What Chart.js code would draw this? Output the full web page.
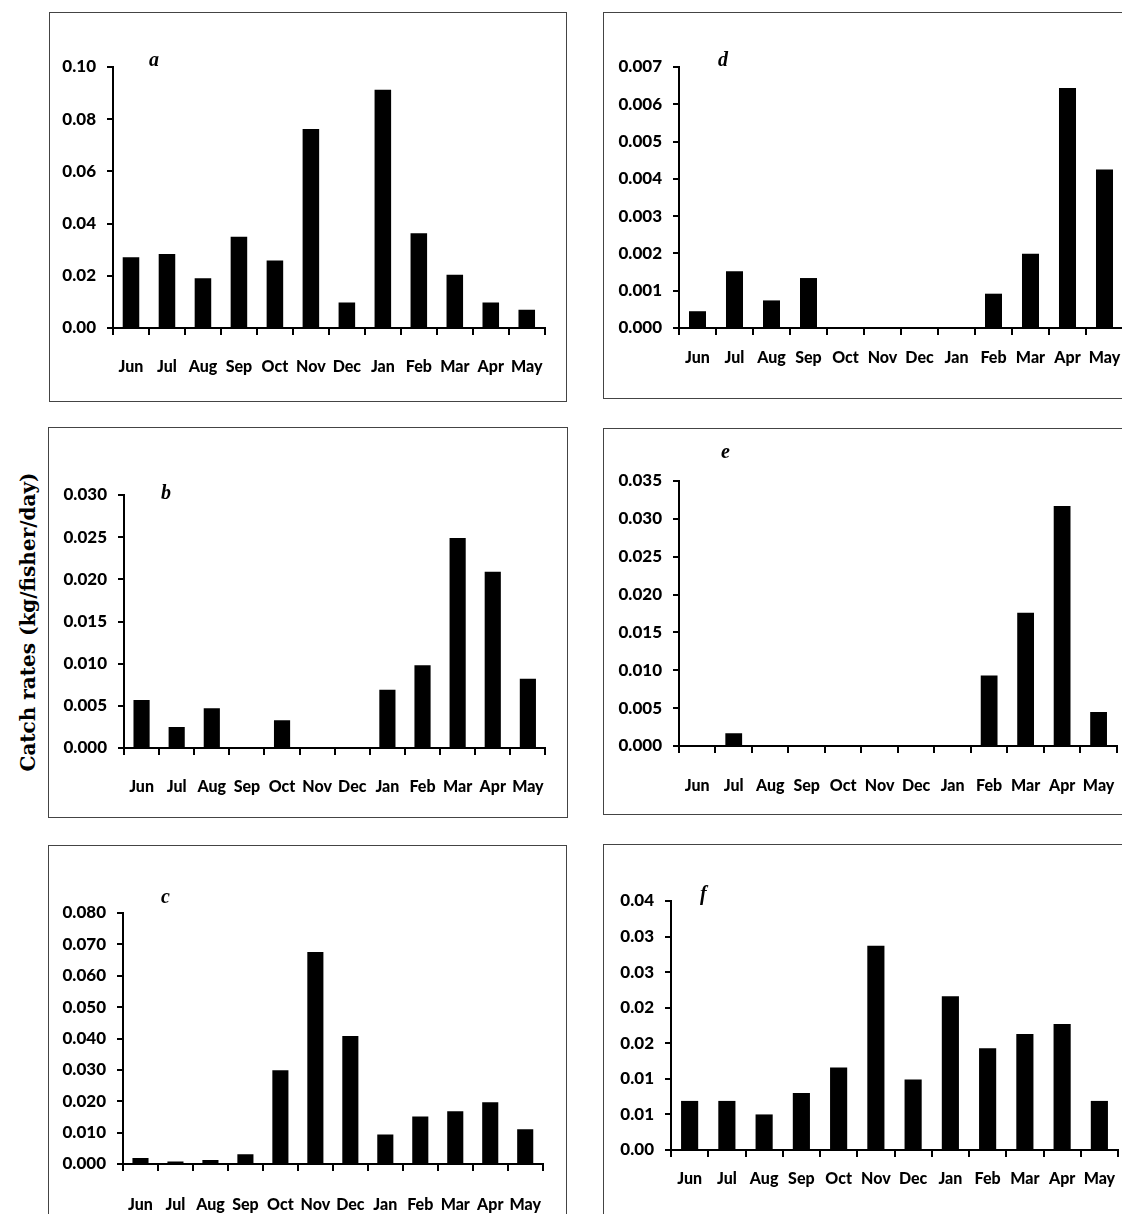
<!DOCTYPE html>
<html>
<head>
<meta charset="utf-8">
<script src="https://cdn.jsdelivr.net/npm/chart.js@4"></script>
<style>
  html, body { margin: 0; padding: 0; background: #fff; }
  body { width: 1122px; height: 1214px; position: relative; overflow: hidden; }
  .frame { position: absolute; border: 1.5px solid #444; box-sizing: border-box; }
  canvas { position: absolute; }
  .tag { position: absolute; font: italic bold 20px "Liberation Serif", serif; color: #000; }
  #ytitle {
    position: absolute; left: 28px; top: 622px;
    transform: translate(-50%, -50%) rotate(-90deg);
    white-space: nowrap;
    font: bold 20px "DejaVu Serif", serif; color: #000;
  }
</style>
</head>
<body>
<div id="ytitle">Catch rates  (kg/fisher/day)</div>
<script>
const months = ['Jun', 'Jul', 'Aug', 'Sep', 'Oct', 'Nov', 'Dec', 'Jan', 'Feb', 'Mar', 'Apr', 'May'];

// panel values
const valuesA = [0.0271, 0.0284, 0.0191, 0.0350, 0.0259, 0.0762, 0.0098, 0.0913, 0.0363, 0.0204, 0.0098, 0.0070];
const valuesB = [0.0057, 0.0025, 0.0047, 0, 0.0033, 0, 0, 0.0069, 0.0098, 0.0249, 0.0209, 0.0082];
const valuesC = [0.0019, 0.0008, 0.0013, 0.0031, 0.0299, 0.0676, 0.0408, 0.0094, 0.0151, 0.0168, 0.0197, 0.0111];
const valuesD = [0.00045, 0.00152, 0.00074, 0.00134, 0, 0, 0, 0, 0.00092, 0.00199, 0.00644, 0.00425];
const valuesE = [0, 0.0017, 0, 0, 0, 0, 0, 0, 0.0093, 0.0176, 0.0317, 0.0045];
const valuesF = [0.0069, 0.0069, 0.0050, 0.0080, 0.0116, 0.0287, 0.0099, 0.0216, 0.0143, 0.0163, 0.0177, 0.0069];

// tick labels, bottom to top
const ticksA = ['0.00', '0.02', '0.04', '0.06', '0.08', '0.10'];
const ticksB = ['0.000', '0.005', '0.010', '0.015', '0.020', '0.025', '0.030'];
const ticksC = ['0.000', '0.010', '0.020', '0.030', '0.040', '0.050', '0.060', '0.070', '0.080'];
const ticksD = ['0.000', '0.001', '0.002', '0.003', '0.004', '0.005', '0.006', '0.007'];
const ticksE = ['0.000', '0.005', '0.010', '0.015', '0.020', '0.025', '0.030', '0.035'];
const ticksF = ['0.00', '0.01', '0.01', '0.02', '0.02', '0.03', '0.03', '0.04'];

const yFont = { family: 'Lato, "Open Sans", sans-serif', size: 17, weight: '900' };
const xFont = { family: 'Lato, "Open Sans", sans-serif', size: 16, weight: '900' };

function panel(tag, values, tickLabels, yMax, yStep, g) {
  const fr = document.createElement('div');
  fr.className = 'frame';
  fr.style.left = g.fl + 'px'; fr.style.top = g.ft + 'px';
  fr.style.width = (g.fr - g.fl) + 'px'; fr.style.height = (g.fb - g.ft) + 'px';
  document.body.appendChild(fr);

  const cv = document.createElement('canvas');
  const cx = g.fl + 2, cy = g.ft + 2, cw = g.fr - g.fl - 4, ch = g.fb - g.ft - 4;
  cv.width = cw; cv.height = ch;
  cv.style.left = cx + 'px'; cv.style.top = cy + 'px';
  document.body.appendChild(cv);

  const lbl = document.createElement('div');
  lbl.className = 'tag';
  lbl.textContent = tag;
  lbl.style.left = g.tx + 'px'; lbl.style.top = g.ty + 'px';
  document.body.appendChild(lbl);

  new Chart(cv, {
    type: 'bar',
    data: {
      labels: months,
      datasets: [{ data: values, backgroundColor: '#000', barPercentage: 0.46, categoryPercentage: 1 }]
    },
    options: {
      responsive: false,
      animation: false,
      layout: { padding: { top: g.y1 - cy, right: cx + cw - g.x1, left: 0, bottom: 0 } },
      plugins: { legend: { display: false }, tooltip: { enabled: false } },
      scales: {
        x: {
          grid: { offset: true, drawOnChartArea: false, color: '#000', lineWidth: 2, tickLength: 7 },
          border: { color: '#000', width: 2 },
          ticks: { color: '#000', font: xFont, padding: g.xpad, maxRotation: 0, autoSkip: false },
          afterFit: s => { s.height = cy + ch - g.y0; }
        },
        y: {
          min: 0, max: yMax,
          grid: { drawOnChartArea: false, color: '#000', lineWidth: 2, tickLength: 6 },
          border: { color: '#000', width: 2 },
          ticks: { stepSize: yStep, color: '#000', font: yFont, padding: 11,
                   callback: (v, i) => tickLabels[i] },
          afterFit: s => { s.width = g.x0 - cx; }
        }
      }
    }
  });
}

panel('a', valuesA, ticksA, 0.10, 0.02,
  { fl: 49, ft: 12, fr: 567, fb: 402, x0: 113, x1: 553, y1: 67, y0: 328, xpad: 22, tx: 149, ty: 48 });
panel('b', valuesB, ticksB, 0.030, 0.005,
  { fl: 48, ft: 427, fr: 568, fb: 818, x0: 124, x1: 557, y1: 495, y0: 748, xpad: 22, tx: 161, ty: 481 });
panel('c', valuesC, ticksC, 0.080, 0.010,
  { fl: 48, ft: 845, fr: 567, fb: 1230, x0: 123, x1: 564, y1: 913, y0: 1164, xpad: 24, tx: 161, ty: 885 });
panel('d', valuesD, ticksD, 0.007, 0.001,
  { fl: 603, ft: 12, fr: 1140, fb: 399, x0: 679, x1: 1123, y1: 67, y0: 328, xpad: 13, tx: 718, ty: 48 });
panel('e', valuesE, ticksE, 0.035, 0.005,
  { fl: 603, ft: 428, fr: 1140, fb: 815, x0: 679, x1: 1122, y1: 481, y0: 746, xpad: 23, tx: 721, ty: 440 });
panel('f', valuesF, ticksF, 0.035, 0.005,
  { fl: 603, ft: 844, fr: 1140, fb: 1230, x0: 671, x1: 1118, y1: 901, y0: 1150, xpad: 12, tx: 700, ty: 882 });
</script>
</body>
</html>
